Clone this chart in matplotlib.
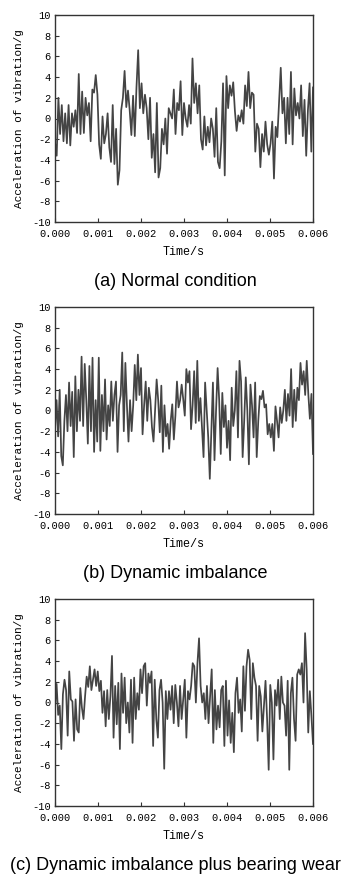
import numpy as np
import matplotlib
matplotlib.use("Agg")
import matplotlib.pyplot as plt

# acceleration values (g), evenly spaced over 0-0.006 s
normal = [-2.3, -3.6, 2.0, -1.5, 1.3, -2.2, 0.5, -2.4, 1.3, -2.6, 0.5, -0.8, 0.8, -1.4, 4.3,
          -1.5, 2.6, -1.4, 2.0, 0.3, 1.5, -2.2, 2.8, 2.5, 4.2, 2.3, -2.5, -3.9, 0.2, -2.4,
          -1.5, 0.5, -2.8, -4.2, 1.3, -4.4, -1.0, -6.4, -5.0, 0.8, 2.0, 4.6, 1.1, 2.7, 0.8,
          -1.6, 2.2, -1.7, 3.0, 6.6, 1.0, 3.4, 0.5, 2.3, 1.0, -2.0, 2.0, -3.8, -1.5, -5.2,
          1.5, -5.7, -4.8, -1.0, -2.5, 0.0, -3.4, 1.0, 0.5, 0.0, 2.8, -1.5, 1.5, 0.8, 3.6,
          -1.6, 1.5, 0.0, -0.8, 1.3, -0.5, 5.8, 1.5, 3.4, 0.5, 3.2, -2.0, -3.0, 0.2, -2.6,
          -0.8, -2.3, 0.0, -1.0, -3.7, 1.0, -4.2, -4.8, -2.2, 3.4, -5.5, 4.1, 1.0, 3.2, 2.2,
          3.5, 0.7, -1.2, 0.3, -0.3, 0.8, -0.5, 3.2, 1.2, 4.5, 1.0, 2.5, 2.3, -3.2, -0.5,
          -1.0, -4.7, -1.5, -3.2, -0.3, -2.5, -3.5, -2.4, -0.3, -5.8, -0.8, -1.8, 1.5, 4.9, 0.5,
          2.0, -2.4, 2.0, -1.5, 4.5, -2.5, 2.9, 0.3, 1.5, 0.0, 3.2, -1.7, 1.8, -3.6, 0.8,
          3.4, -3.2, 3.0]

imbalance = [-1.8, 1.0, -2.5,
             2.0, -4.4, -5.3, -1.0, 1.5, -2.0, 2.7, -1.5, 1.8, -4.5,
             3.3, -2.0, 2.0, -1.0, 5.2, -1.5, 4.5, 1.0, -3.2, 4.3,
             -2.0, 5.1, -4.0, 1.0, -3.0, 5.1, -3.9, 1.5, -2.0, 3.0,
             -2.8, 0.5, -1.5, 2.8, -1.0, 1.5, 2.8, -4.0, 0.5, 1.5,
             5.6, -2.0, 4.6, 0.5, -3.0, 1.0, -2.0, 0.5, 4.4, 1.0,
             5.4, 1.5, 4.1, -2.3, 0.5, 2.8, -1.0, 2.2, 1.0, -1.6,
             -3.0, 0.0, 3.0, 1.0, -2.1, 2.4, -4.0, 0.5, -2.5, -1.3,
             -3.7, -1.0, 0.6, -2.8, -0.5, 2.8, 0.3, 1.0, 2.5, 1.1,
             -0.5, 4.0, 2.7, 3.8, -1.8, 0.5, 3.8, -1.2, 4.8, -1.0, 1.2,
             -1.6, -4.5, 2.7, 0.0, -2.6, -6.6, -2.0, 2.7, -4.8, 0.0,
             4.1, 1.0, -4.2, 1.7, -1.6, 0.5, -3.6, -1.0, -4.8, 2.2,
             -1.5, 0.0, 3.8, -2.6, 4.8, 2.8, -4.5, -1.0, 3.2, 0.0,
             -5.2, 2.5, 0.5, -2.6, 2.7, -4.5, -1.0, 1.4, 1.1, 1.9,
             0.3, 0.6, -2.3, -1.3, -2.6, -1.3, -3.9, 0.4, -1.0, -2.6,
             0.3, -1.2, 0.0, 2.0, -1.0, 1.6, -0.5, 4.0, -1.6, 2.0,
             -1.0, 2.2, 1.0, 4.6, 2.5, 3.8, 1.5, 4.8, 1.6, -0.8,
             1.6, -4.2]

imbalance_wear = [-0.5, 1.8, -1.2,
                  -0.3, -4.5, 0.8, 2.2, 1.2, -3.2, 3.0, 0.3, 0.1, -3.7,
                  0.3, -2.6, -2.9, 1.4, -0.5, -1.6, 0.6, 2.5, 1.5, 3.5,
                  1.2, 2.2, 3.2, 1.6, 3.0, 1.1, 2.1, -1.0, 1.1, -2.3,
                  1.2, -1.6, 0.6, 4.5, -3.4, 1.6, -2.1, 1.9, -4.5, 2.8,
                  -1.0, 2.4, -2.0, 0.0, -2.9, 2.2, -3.9, 2.4, -1.6, 0.9,
                  -0.7, 3.2, 0.9, 3.5, 3.8, -0.3, 2.8, 1.9, 3.0, -4.2,
                  2.2, -1.6, -3.4, 1.2, 2.2, 0.0, -6.4, 1.1, -1.6, 1.1,
                  -0.7, 1.6, -2.0, 1.7, 0.0, -2.3, 1.6, -1.6, 0.3, 2.2,
                  -3.4, 1.1, 0.3, 1.6, 3.8, 3.5, 0.0, 3.8, 6.2, 1.6,
                  0.0, 0.9, -1.6, 1.6,
                  -2.0, 0.6, 3.2, -3.9, 1.2, -2.6, -0.3, -2.4, 1.2, 1.6,
                  -4.2, 2.1, -3.2, 0.2, -3.9, -1.0, -4.8, 0.9, 2.4, -1.0,
                  0.3, -2.8, 3.5, -0.8, 3.5, 5.1, 4.1, -1.6, 3.8, 2.4,
                  1.6, -3.7, 1.6, 0.6, -2.8, -0.3, 2.1, -1.6, -6.5, 1.7,
                  0.0, -5.5, 1.2, -0.3, 2.2, -1.6, 2.5, 0.0, -0.3, -3.2,
                  2.1, -6.5, 0.9, 2.4, -1.6, -3.7, 2.7, 3.2, 2.7, 3.8,
                  0.0, 6.7, 3.2, -2.9, 1.1, -1.3, -4.0]

captions = ["(a) Normal condition", "(b) Dynamic imbalance",
            "(c) Dynamic imbalance plus bearing wear"]
xticks = [0.000, 0.001, 0.002, 0.003, 0.004, 0.005, 0.006]
yticks = [-10, -8, -6, -4, -2, 0, 2, 4, 6, 8, 10]

W, H = 350, 874
fig = plt.figure(figsize=(W / 100, H / 100), dpi=100)

mono = "Liberation Mono"
tops = [15, 307, 599]   # pixel row of each axes top
for sig, cap, top in zip([normal, imbalance, imbalance_wear], captions, tops):
    ax = fig.add_axes([55 / W, 1 - (top + 207) / H, 258 / W, 207 / H])
    t = np.linspace(0, 0.006, len(sig))
    ax.plot(t, sig, color="#444444", lw=1.25)
    ax.set_xlim(0, 0.006)
    ax.set_ylim(-10, 10)
    ax.set_xticks(xticks)
    ax.set_xticklabels(["%.3f" % v for v in xticks], family=mono, fontsize=7.5)
    ax.set_yticks(yticks)
    ax.set_yticklabels([str(v) for v in yticks], family=mono, fontsize=7.5)
    ax.tick_params(direction="in", length=3, width=0.8, color="#333333")
    ax.tick_params(axis="x", pad=5)
    ax.tick_params(axis="y", pad=3)
    for s in ax.spines.values():
        s.set_linewidth(1.0)
        s.set_color("#333333")
    ax.set_xlabel("Time/s", family=mono, fontsize=8.5, labelpad=5)
    ax.set_ylabel("Acceleration of vibration/g", family=mono, fontsize=8, labelpad=6)
    fig.text(0.5, 1 - (top + 266) / H, cap, family="Liberation Sans", fontsize=13,
             ha="center", va="center")

fig.savefig("out.png", dpi=100)
